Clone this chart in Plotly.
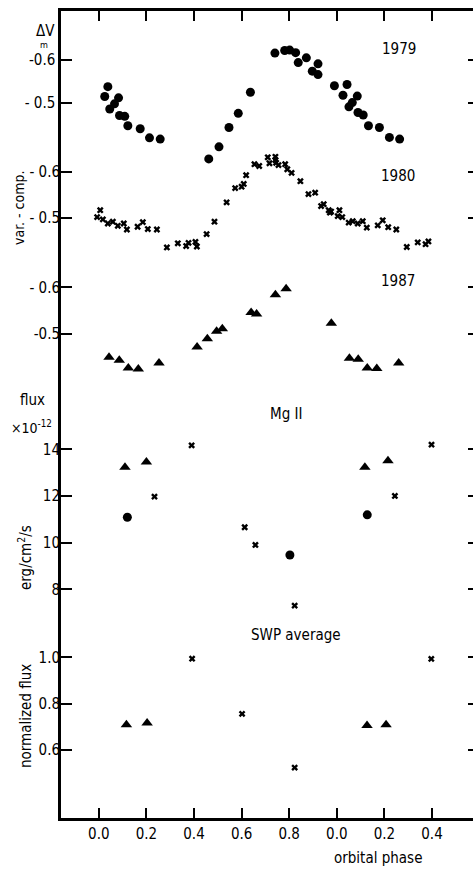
import plotly.graph_objects as go

# ---------------- data ----------------
# 1979 V light curve (filled circles)
ph79 = [0.025, 0.038, 0.046, 0.066, 0.083, 0.087, 0.109, 0.122, 0.174, 0.213, 0.258,
        0.462, 0.505, 0.547, 0.586, 0.637, 0.740, 0.781, 0.802, 0.827, 0.838, 0.872,
        0.897, 0.921, 0.921, 0.990, 1.026, 1.043, 1.051, 1.065, 1.086, 1.089, 1.111,
        1.133, 1.179, 1.221, 1.264]
dv79 = [-0.515, -0.538, -0.486, -0.498, -0.512, -0.471, -0.469, -0.447, -0.440, -0.419, -0.416,
        -0.370, -0.398, -0.443, -0.476, -0.525, -0.616, -0.622, -0.623, -0.617, -0.594, -0.605,
        -0.574, -0.591, -0.566, -0.540, -0.518, -0.543, -0.491, -0.501, -0.516, -0.478, -0.472,
        -0.447, -0.443, -0.420, -0.416]

# 1980 V light curve (crosses)
ph80 = [0.006, -0.007, 0.017, 0.038, 0.059, 0.080, 0.105, 0.118, 0.163, 0.185, 0.206, 0.244,
        0.286, 0.332, 0.367, 0.377, 0.406, 0.412, 0.453, 0.486, 0.537, 0.573, 0.600, 0.609,
        0.619, 0.654, 0.674, 0.710, 0.717, 0.742, 0.742, 0.745, 0.755, 0.783, 0.792, 0.810,
        0.847, 0.881, 0.909, 0.934, 0.945, 0.966, 0.971, 0.976, 1.011, 1.004, 1.023, 1.050,
        1.067, 1.088, 1.109, 1.126, 1.172, 1.193, 1.216, 1.250, 1.294, 1.340, 1.373, 1.385]
dv80 = [-0.517, -0.502, -0.497, -0.488, -0.492, -0.483, -0.488, -0.475, -0.481, -0.491, -0.476, -0.475,
        -0.436, -0.445, -0.439, -0.446, -0.448, -0.438, -0.465, -0.492, -0.534, -0.565, -0.568, -0.574,
        -0.593, -0.617, -0.613, -0.632, -0.619, -0.633, -0.626, -0.620, -0.615, -0.617, -0.606, -0.598,
        -0.580, -0.552, -0.555, -0.526, -0.530, -0.517, -0.512, -0.514, -0.517, -0.504, -0.502, -0.490,
        -0.493, -0.488, -0.493, -0.479, -0.484, -0.495, -0.480, -0.475, -0.437, -0.447, -0.443, -0.449]

# 1987 V light curve (triangles)
ph87 = [0.043, 0.086, 0.124, 0.166, 0.253, 0.413, 0.456, 0.495, 0.519, 0.640, 0.663,
        0.742, 0.787, 0.977, 1.053, 1.090, 1.128, 1.168, 1.260]
dv87 = [-0.450, -0.444, -0.427, -0.425, -0.438, -0.472, -0.490, -0.506, -0.511, -0.546, -0.543,
        -0.584, -0.597, -0.523, -0.448, -0.446, -0.427, -0.426, -0.438]

# Mg II flux (x 1e-12 erg/cm2/s)
mg_ph_circ = [0.120, 0.803, 1.128]
mg_fl_circ = [11.09, 9.47, 11.19]
mg_ph_cross = [0.234, 0.390, 0.613, 0.658, 0.823, 1.244, 1.398]
mg_fl_cross = [11.97, 14.17, 10.66, 9.90, 7.30, 12.00, 14.20]
mg_ph_tri = [0.110, 0.200, 1.118, 1.215]
mg_fl_tri = [13.23, 13.46, 13.23, 13.51]

# SWP average normalized flux
swp_ph_cross = [0.392, 0.602, 0.823, 1.397]
swp_fl_cross = [0.994, 0.756, 0.524, 0.993]
swp_ph_tri = [0.116, 0.203, 1.127, 1.207]
swp_fl_tri = [0.709, 0.716, 0.706, 0.709]

xtick_vals = [0.0, 0.2, 0.4, 0.6, 0.8, 1.0, 1.2, 1.4]
xtick_text = ["0.0", "0.2", "0.4", "0.6", "0.8", "0.0", "0.2", "0.4"]

# ---------------- layout geometry ----------------
WIDTH, HEIGHT = 473, 869
L, R, T, B = 61, 473, 11, 818
PW, PH = R - L, B - T
FONT = "DejaVu Sans Condensed, DejaVu Sans, Liberation Sans"
FS = 15


def yrange(v1, p1, v2, p2):
    s = (v2 - v1) / (p2 - p1)
    return [v1 + (B - p1) * s, v1 + (T - p1) * s]


def px(x):
    return (x - L) / PW


def py(y):
    return (B - y) / PH


X0, XS = 98.8, 238.0
xrange_ = [(L - X0) / XS, (R - X0) / XS]

panels = [
    # (range, tickvals, ticktext)
    (yrange(-0.6, 60, -0.5, 103), [-0.6, -0.5], ["-0.6", "- 0.5"]),
    (yrange(-0.6, 172, -0.5, 218), [-0.6, -0.5], ["- 0.6", "- 0.5"]),
    (yrange(-0.6, 287.3, -0.5, 334), [-0.6, -0.5], ["- 0.6", "-0.5"]),
    (yrange(14, 449.3, 8, 589.3), [8, 10, 12, 14], ["8", "10", "12", "14"]),
    (yrange(1.0, 657.3, 0.6, 750), [0.6, 0.8, 1.0], ["0.6", "0.8", "1.0"]),
]

fig = go.Figure()

mk_circle = dict(symbol="circle", size=9, color="black")
mk_cross = dict(symbol="x", size=6, color="black")
mk_tri = dict(symbol="triangle-up", size=10, color="black")


def add(x, y, yref, marker):
    fig.add_trace(go.Scatter(x=x, y=y, mode="markers", marker=marker,
                             xaxis="x", yaxis=yref, cliponaxis=False,
                             showlegend=False, hoverinfo="skip"))


add(ph79, dv79, "y", mk_circle)
add(ph80, dv80, "y2", mk_cross)
add(ph87, dv87, "y3", mk_tri)
add(mg_ph_circ, mg_fl_circ, "y4", mk_circle)
add(mg_ph_cross, mg_fl_cross, "y4", mk_cross)
add(mg_ph_tri, mg_fl_tri, "y4", mk_tri)
add(swp_ph_cross, swp_fl_cross, "y5", mk_cross)
add(swp_ph_tri, swp_fl_tri, "y5", mk_tri)

# invisible traces to activate right-hand tick axes
for i in range(5):
    fig.add_trace(go.Scatter(x=[None], y=[None], mode="markers", xaxis="x",
                             yaxis=f"y{6 + i}", showlegend=False, hoverinfo="skip"))

tick_font = dict(family=FONT, size=FS, color="black")

layout = dict(
    width=WIDTH, height=HEIGHT,
    margin=dict(l=L, r=WIDTH - R, t=T, b=HEIGHT - B, pad=0),
    paper_bgcolor="white", plot_bgcolor="white",
    font=dict(family=FONT, size=FS, color="black"),
    xaxis=dict(range=xrange_, tickvals=xtick_vals, ticktext=xtick_text,
               ticks="inside", ticklen=10, tickwidth=2, tickcolor="black",
               showline=True, linewidth=2.5, linecolor="black", mirror="ticks",
               showgrid=False, zeroline=False, tickfont=tick_font,
               anchor="y"),
)

for i, (rng, tv, tt) in enumerate(panels):
    key = "yaxis" if i == 0 else f"yaxis{i + 1}"
    ax = dict(range=rng, tickvals=tv, ticktext=tt, ticks="inside", ticklen=11,
              tickwidth=2, tickcolor="black", showgrid=False, zeroline=False,
              showline=(i == 0), linewidth=2.5, linecolor="black",
              side="left", anchor="x", tickfont=tick_font)
    if i > 0:
        ax["overlaying"] = "y"
    layout[key] = ax
    # right-hand mirror ticks
    layout[f"yaxis{6 + i}"] = dict(range=rng, tickvals=tv, ticks="inside", ticklen=5,
                                  tickwidth=2, tickcolor="black", showticklabels=False,
                                  showgrid=False, zeroline=False, showline=False,
                                  side="right", anchor="x", overlaying="y")

fig.update_layout(**layout)

# ---------------- text labels ----------------
def ann(text, x, y, size=FS, angle=0):
    fig.add_annotation(text=text, x=px(x), y=py(y), xref="paper", yref="paper",
                       showarrow=False, textangle=angle, xanchor="center",
                       yanchor="middle",
                       font=dict(family=FONT, size=size, color="black"))


ann("ΔV", 45, 31)
ann("m", 44, 45, size=9)
ann("var. - comp.", 19, 208, size=14, angle=-90)
ann("flux", 32, 400)
ann("×10<sup>-12</sup>", 31, 427, size=14)
ann("erg/cm<sup>2</sup>/s", 25, 558, angle=-90)
ann("normalized flux", 26, 716, angle=-90)
ann("orbital phase", 378, 858)
ann("1979", 399, 49)
ann("1980", 398, 176)
ann("1987", 398, 281)
ann("Mg II", 286, 414)
ann("SWP average", 296, 635)

fig.write_html("out.html", config={"displayModeBar": False},
               post_script="document.body.style.margin='0';document.body.style.padding='0';")
